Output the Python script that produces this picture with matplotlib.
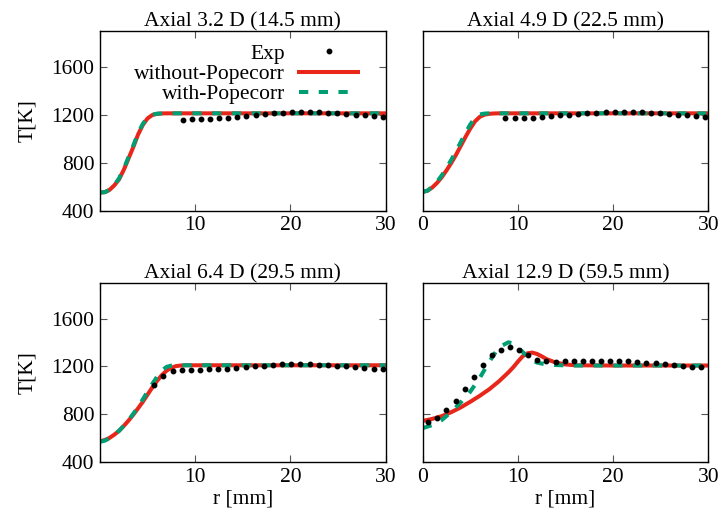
import matplotlib
matplotlib.use("Agg")
import matplotlib.pyplot as plt

plt.rcParams["font.family"] = ["Liberation Serif", "DejaVu Serif"]
plt.rcParams["font.size"] = 15.5

RED = "#e8261a"
GREEN = "#009e73"

titles = ["Axial 3.2 D (14.5 mm)", "Axial 4.9 D (22.5 mm)",
          "Axial 6.4 D (29.5 mm)", "Axial 12.9 D (59.5 mm)"]

# ---------- experimental data ----------
r_exp_top = [8.70, 9.66, 10.61, 11.57, 12.52, 13.48, 14.43, 15.39, 16.34, 17.30,
             18.25, 19.21, 20.16, 21.12, 22.07, 23.03, 23.98, 24.94, 25.89, 26.85,
             27.80, 28.76, 29.71]
T_exp_32 = [1160, 1161, 1163, 1166, 1169, 1174, 1182, 1191, 1200, 1206,
            1211, 1216, 1219, 1220, 1220, 1219, 1216, 1211, 1206, 1200,
            1195, 1190, 1184]
T_exp_49 = [1170, 1171, 1174, 1177, 1182, 1188, 1195, 1201, 1207, 1212,
            1216, 1219, 1221, 1222, 1221, 1219, 1216, 1212, 1207, 1202,
            1197, 1192, 1185]

r_exp_64 = [5.70, 6.66, 7.62, 8.58, 9.54, 10.50, 11.46, 12.42, 13.38, 14.34,
            15.30, 16.26, 17.22, 18.18, 19.14, 20.10, 21.06, 22.02, 22.98, 23.94,
            24.90, 25.86, 26.82, 27.78, 28.74, 29.70]
T_exp_64 = [1047, 1119, 1158, 1170, 1172, 1174, 1175, 1179, 1183, 1189,
            1194, 1200, 1207, 1213, 1218, 1221, 1221, 1219, 1216, 1211,
            1206, 1200, 1194, 1189, 1182, 1177]

r_exp_129 = [0.59, 1.55, 2.50, 3.46, 4.41, 5.37, 6.32, 7.28, 8.23, 9.19,
             10.14, 11.10, 12.05, 13.00, 13.96, 14.92, 15.87, 16.83, 17.78, 18.74,
             19.69, 20.65, 21.60, 22.56, 23.51, 24.47, 25.42, 26.38, 27.33, 28.29,
             29.24]
T_exp_129 = [736, 769, 833, 914, 1008, 1111, 1211, 1294, 1339, 1361,
             1339, 1297, 1258, 1244, 1239, 1242, 1245, 1247, 1247, 1247,
             1247, 1245, 1242, 1238, 1233, 1226, 1220, 1213, 1205, 1199,
             1192]

# ---------- simulations ----------
r_sim_32 = [0, 0.5, 1.0, 1.5, 2.0, 2.5, 3.0, 3.5, 4.0, 4.5, 5.0, 5.5, 6.0, 6.5, 7.0, 8.0, 10, 15, 20, 25, 30]
T_wo_32 = [550, 553, 572, 610, 660, 740, 835, 930, 1035, 1115, 1170, 1198, 1208, 1211, 1212, 1212, 1212, 1212, 1212, 1212, 1212]
T_w_32 = [550, 553, 573, 613, 668, 750, 847, 943, 1045, 1124, 1177, 1201, 1209, 1211, 1212, 1212, 1212, 1212, 1212, 1212, 1212]

r_sim_49 = [0, 0.5, 1.0, 1.5, 2.0, 2.5, 3.0, 3.5, 4.0, 4.5, 5.0, 5.5, 6.0, 6.5, 7.0, 7.5, 8.0, 10, 15, 20, 25, 30]
T_wo_49 = [555, 565, 592, 630, 678, 735, 797, 865, 940, 1015, 1085, 1145, 1183, 1201, 1208, 1211, 1212, 1212, 1212, 1212, 1212, 1212]
T_w_49 = [555, 566, 596, 640, 693, 755, 823, 895, 972, 1048, 1120, 1175, 1203, 1210, 1212, 1212, 1212, 1212, 1212, 1212, 1212, 1212]

r_sim_64 = [0, 0.5, 1.0, 1.5, 2.0, 2.5, 3.0, 3.5, 4.0, 4.5, 5.0, 5.5, 6.0, 6.5, 7.0, 7.5, 8.0, 8.5, 9.0, 10, 15, 20, 25, 30]
T_wo_64 = [575, 585, 603, 630, 662, 703, 748, 797, 850, 905, 965, 1025, 1080, 1128, 1165, 1190, 1203, 1208, 1210, 1210, 1210, 1210, 1210, 1210]
T_w_64 = [570, 580, 600, 628, 662, 705, 752, 805, 862, 925, 990, 1055, 1115, 1165, 1197, 1207, 1210, 1210, 1210, 1210, 1210, 1210, 1210, 1210]

r_sim_129 = [0, 1.0, 2.0, 3.0, 4.0, 5.0, 6.0, 7.0, 8.0, 9.0, 9.5, 10.0, 10.5, 11.0, 11.5, 12.0, 12.5, 13.0, 14.0, 15.0, 16.0, 20, 25, 30]
T_wo_129 = [745, 762, 785, 818, 858, 905, 955, 1010, 1075, 1150, 1192, 1240, 1285, 1310, 1316, 1305, 1285, 1262, 1232, 1217, 1210, 1208, 1208, 1208]
T_w_129 = [685, 710, 752, 820, 900, 990, 1105, 1240, 1360, 1402, 1392, 1360, 1322, 1283, 1250, 1233, 1224, 1218, 1212, 1209, 1208, 1208, 1208, 1208]

panels = [
    (r_exp_top, T_exp_32, r_sim_32, T_wo_32, T_w_32),
    (r_exp_top, T_exp_49, r_sim_49, T_wo_49, T_w_49),
    (r_exp_64, T_exp_64, r_sim_64, T_wo_64, T_w_64),
    (r_exp_129, T_exp_129, r_sim_129, T_wo_129, T_w_129),
]

fig = plt.figure(figsize=(7.23, 5.15), dpi=100)
W, H = 723, 515
boxes = [(100, 31), (422.7, 31), (100, 282.7), (422.7, 282.7)]
aw, ah = 285.5, 179.5

for i, (box, title, data) in enumerate(zip(boxes, titles, panels)):
    x0, ytop = box
    ax = fig.add_axes([x0 / W, (H - ytop - ah) / H, aw / W, ah / H])
    re, te, rs, two, tw = data
    ax.plot(re, te, "o", color="black", ms=3.2, ls="none", label="Exp", zorder=3)
    ax.plot(rs, two, "-", color=RED, lw=2.9, label="without-Popecorr", zorder=2)
    ax.plot(rs, tw, color=GREEN, lw=2.9, dashes=(2.3, 2.6), dash_capstyle="butt",
            label="with-Popecorr", zorder=2.5)
    ax.set_xlim(0, 30)
    ax.set_ylim(400, 1900)
    ax.set_xticks([0, 10, 20, 30])
    ax.set_yticks([400, 800, 1200, 1600])
    left = i % 2 == 0
    if left:
        ax.set_xticklabels(["", "10", "20", "30"])
        ax.set_ylabel("T[K]", labelpad=10)
    else:
        ax.set_yticklabels([])
    ax.tick_params(direction="in", length=5, width=0.8, top=True, right=True,
                   color="#555555", pad=4)
    for s in ax.spines.values():
        s.set_linewidth(1.0)
    ax.set_title(title, fontsize=15.5, pad=3)
    if i >= 2:
        ax.set_xlabel("r [mm]", labelpad=2)
    if i == 0:
        ax.legend(loc="upper right", frameon=False, markerfirst=False,
                  handlelength=2.75, handletextpad=0.65, labelspacing=0.0,
                  borderaxespad=0.2, fontsize=15.5, numpoints=1,
                  bbox_to_anchor=(0.95, 1.0))

fig.savefig("out.png", dpi=100)
